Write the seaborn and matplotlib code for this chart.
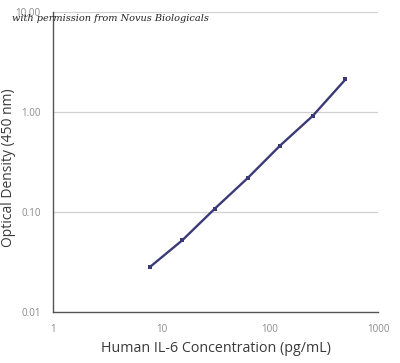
import numpy as np
import pandas as pd
import matplotlib
matplotlib.use("Agg")
import matplotlib.pyplot as plt
from matplotlib.ticker import LogLocator, FixedLocator, FixedFormatter, NullFormatter
import seaborn as sns

# Standard curve data
concentration = [7.8, 15.6, 31.25, 62.5, 125, 250, 500]
optical_density = [0.028, 0.052, 0.108, 0.217, 0.46, 0.91, 2.1]
x_ticks = [1, 10, 100, 1000]
x_labels = ["1", "10", "100", "1000"]
y_ticks = [0.01, 0.1, 1, 10]
y_labels = ["0.01", "0.10", "1.00", "10.00"]

df = pd.DataFrame({"conc": concentration, "od": optical_density})

sns.set_theme(style="white")
plt.rcParams['font.family'] = ['Open Sans', 'DejaVu Sans']

fig = plt.figure(figsize=(4.0, 3.63), dpi=100)
ax = fig.add_axes([0.1325, 0.1405, 0.8125, 0.8275])

sns.lineplot(data=df, x="conc", y="od", ax=ax, color="#3b3a78", linewidth=1.7,
             marker="s", markersize=2.8, markeredgewidth=0)

ax.set_xscale("log")
ax.set_yscale("log")
ax.set_xlim(1, 1000)
ax.set_ylim(0.01, 10)

# gridlines at decades
for y in [0.1, 1, 10]:
    ax.axhline(y, color="#d0d0d0", linewidth=0.9, zorder=0)

ax.xaxis.set_major_locator(FixedLocator(x_ticks))
ax.xaxis.set_major_formatter(FixedFormatter(x_labels))
ax.yaxis.set_major_locator(FixedLocator(y_ticks))
ax.yaxis.set_major_formatter(FixedFormatter(y_labels))
ax.xaxis.set_minor_locator(LogLocator(base=10, subs=np.arange(2, 10)))
ax.yaxis.set_minor_locator(LogLocator(base=10, subs=np.arange(2, 10)))
ax.xaxis.set_minor_formatter(NullFormatter())
ax.yaxis.set_minor_formatter(NullFormatter())

ax.tick_params(axis="both", which="major", labelsize=7, labelcolor="#8a8a8a",
               color="#555555", length=3, width=0.8, direction="in", pad=9)
ax.tick_params(axis="both", which="minor", color="#555555", length=2,
               width=0.6, direction="in")

for side in ["top", "right"]:
    ax.spines[side].set_visible(False)
for side in ["left", "bottom"]:
    ax.spines[side].set_color("#555555")
    ax.spines[side].set_linewidth(1.0)

ax.set_xlabel("Human IL-6 Concentration (pg/mL)", fontsize=10.3, color="#3a3a3a")
ax.set_ylabel("Optical Density (450 nm)", fontsize=10, color="#3a3a3a")
ax.xaxis.set_label_coords(0.5, -0.095)
ax.yaxis.set_label_coords(-0.115, 0.48)

fig.text(0.03, 0.942, "with permission from Novus Biologicals", fontsize=7,
         family="serif", style="italic", color="#222222")

fig.savefig("out.png", dpi=100)
